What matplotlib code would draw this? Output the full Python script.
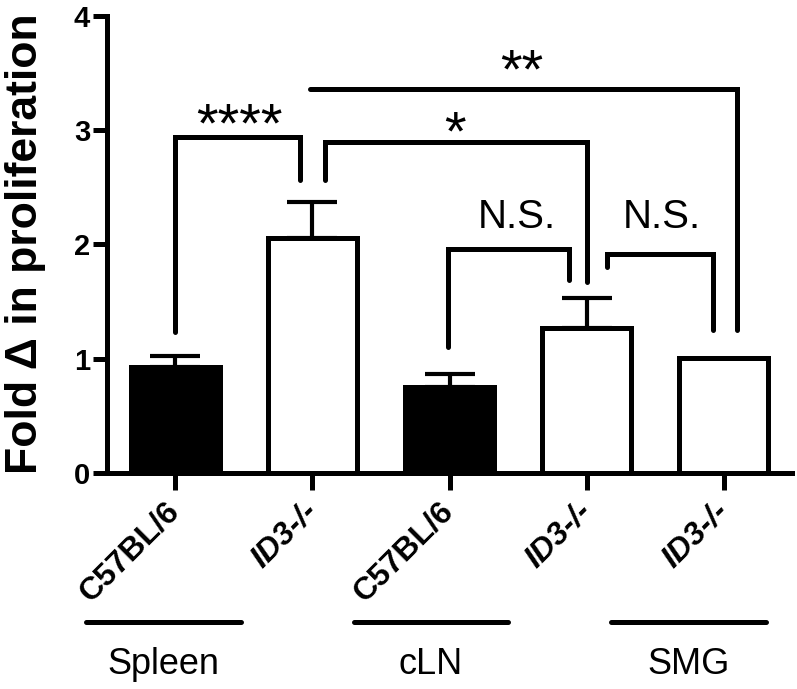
import matplotlib
matplotlib.use("Agg")
import matplotlib.pyplot as plt
import matplotlib.transforms as mtransforms

plt.rcParams['font.family'] = ['Liberation Sans', 'DejaVu Sans']

# bar data
labels = ['C57BL/6', 'ID3-/-', 'C57BL/6', 'ID3-/-', 'ID3-/-']
means = [0.93, 2.06, 0.75, 1.27, 1.01]
errs = [0.09, 0.31, 0.12, 0.26, 0.0]
fills = ['black', 'white', 'black', 'white', 'white']
italic = [False, True, False, True, True]

# tissue groups (label, x start, x end)
groups = ['Spleen', 'cLN', 'SMG']
group_start = [-0.65, 1.30, 3.18]
group_end = [0.48, 2.43, 4.31]

# significance brackets: (x left, y left leg bottom, x right, y right leg bottom, y top, text, text x, text baseline y)
brackets = [
    (0.0, 1.23, 0.91, 2.56, 2.94, '****', 0.47, 2.90),
    (1.09, 2.56, 3.0, 1.67, 2.90, '*', 2.04, 2.83),
    (0.98, None, 4.10, 1.25, 3.36, '**', 2.53, 3.37),
    (1.99, 1.10, 2.87, 1.69, 1.96, 'N.S.', 2.49, 2.14),
    (3.15, 1.80, 3.92, 1.25, 1.92, 'N.S.', 3.55, 2.14),
]

lw = 3.6

fig = plt.figure(figsize=(7.97, 6.89), dpi=100)
ax = fig.add_axes([0.134, 0.3135, 0.86, 0.6635])

x = list(range(len(means)))
ax.bar(x, means, width=0.65, color=fills, edgecolor='black', linewidth=lw, zorder=3)
for xi, m, e in zip(x, means, errs):
    if e > 0:
        ax.errorbar(xi, m, yerr=[[0], [e]], fmt='none', ecolor='black',
                    elinewidth=3, capsize=18, capthick=3, zorder=2)

for xl, yl, xr, yr, yt, txt, tx, ty in brackets:
    xs, ys = [], []
    if yl is not None:
        xs.append(xl); ys.append(yl)
    xs += [xl, xr, xr]
    ys += [yt, yt, yr]
    ax.plot(xs, ys, color='black', lw=lw, solid_capstyle='round',
            solid_joinstyle='miter', clip_on=False)
    size = 29 if txt == 'N.S.' else 40
    ax.text(tx, ty, txt, ha='center', va='baseline', fontsize=size)

ax.set_xlim(-0.5, 4.5)
ax.set_ylim(0, 4)
ax.set_yticks([0, 1, 2, 3, 4])
ax.set_yticklabels(['0', '1', '2', '3', '4'], fontsize=21, fontweight='bold')
ax.set_xticks(x)
ax.set_xticklabels(labels, rotation=45, ha='right', va='center',
                   rotation_mode='anchor', fontsize=23, fontweight='bold')
for t, it in zip(ax.get_xticklabels(), italic):
    if it:
        t.set_fontstyle('italic')

for s in ['top', 'right']:
    ax.spines[s].set_visible(False)
for s in ['left', 'bottom']:
    ax.spines[s].set_linewidth(lw)
ax.tick_params(axis='y', length=10, width=lw, pad=2)
ax.tick_params(axis='x', length=12, width=lw, pad=12)

fig.text(26 / 797, 0.646, 'Fold Δ in proliferation', rotation=90, ha='center',
         va='center', fontsize=32, fontweight='bold')

trans = mtransforms.blended_transform_factory(ax.transData, fig.transFigure)
for g, a, b in zip(groups, group_start, group_end):
    ax.plot([a, b], [0.097, 0.097], transform=trans, color='black', lw=lw,
            solid_capstyle='round', clip_on=False)
    ax.text((a + b) / 2, 0.035, g, transform=trans, ha='center', va='center',
            fontsize=26)

fig.savefig('out.png', dpi=100)
